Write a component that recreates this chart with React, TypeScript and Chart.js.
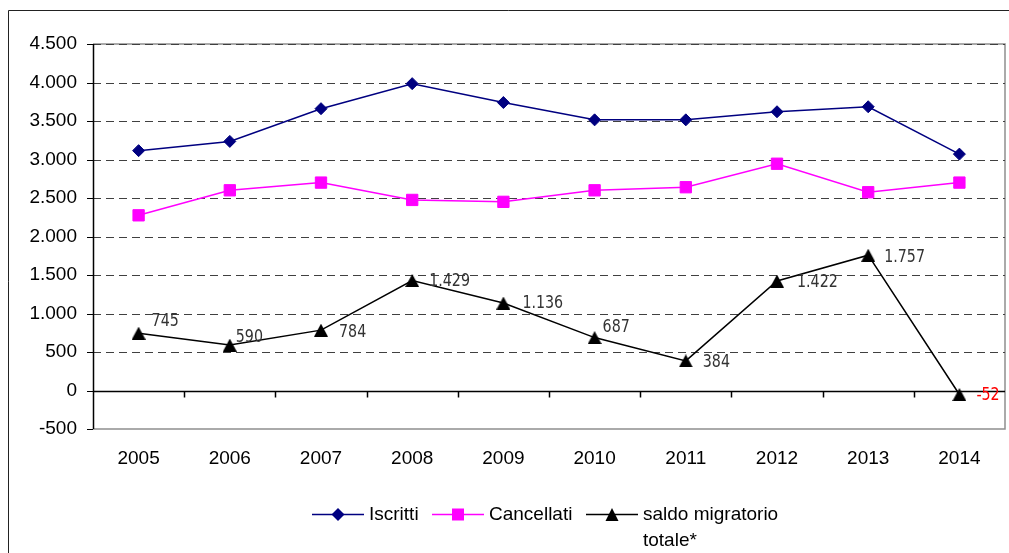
import React, { useEffect, useRef } from 'react';
import { Chart, registerables } from 'chart.js';

Chart.register(...registerables);

// ---- data ----
const years = ['2005', '2006', '2007', '2008', '2009', '2010', '2011', '2012', '2013', '2014'];
const iscritti = [3115, 3235, 3660, 3985, 3740, 3515, 3515, 3620, 3685, 3070];
const cancellati = [2275, 2600, 2700, 2475, 2450, 2600, 2640, 2945, 2575, 2700];
const saldo = [745, 590, 784, 1429, 1136, 687, 384, 1422, 1757, -52];
const seriesNames = ['Iscritti', 'Cancellati', 'saldo migratorio totale*'];
const yMin = -500;
const yMax = 4500;
const yStep = 500;

// label placement relative to the point (style only)
const labelNudge: [number, number][] = [
  [13, -12], [6, -8], [18, 2], [17, 1], [19, 0], [8, -10], [17, 1], [20, 1], [16, 2], [17, 1],
];

const FONT = "'Liberation Sans', Arial, sans-serif";
const NARROW = "'Liberation Sans Narrow', 'DejaVu Sans Condensed', 'Liberation Sans', sans-serif";

function fmt(n: number): string {
  const s = Math.abs(Math.round(n)).toString().replace(/\B(?=(\d{3})+(?!\d))/g, '.');
  return (n < 0 ? '-' : '') + s;
}

function makeTriangle(w: number, h: number, color: string): HTMLCanvasElement {
  const c = document.createElement('canvas');
  c.width = w;
  c.height = h;
  const x = c.getContext('2d')!;
  x.fillStyle = color;
  x.beginPath();
  x.moveTo(w / 2, 0);
  x.lineTo(w, h);
  x.lineTo(0, h);
  x.closePath();
  x.fill();
  return c;
}

function drawMarker(ctx: CanvasRenderingContext2D, kind: string, x: number, y: number, color: string) {
  ctx.save();
  ctx.fillStyle = color;
  ctx.beginPath();
  if (kind === 'diamond') {
    const r = 6.5;
    ctx.moveTo(x, y - r);
    ctx.lineTo(x + r, y);
    ctx.lineTo(x, y + r);
    ctx.lineTo(x - r, y);
    ctx.closePath();
  } else if (kind === 'square') {
    ctx.rect(x - 6, y - 6, 12, 12);
  } else {
    ctx.moveTo(x, y - 6.5);
    ctx.lineTo(x + 6.5, y + 6.5);
    ctx.lineTo(x - 6.5, y + 6.5);
    ctx.closePath();
  }
  ctx.fill();
  ctx.restore();
}

const decor = {
  id: 'decor',
  beforeDraw(chart: any) {
    const { ctx, chartArea: a } = chart;
    ctx.save();
    ctx.fillStyle = '#ffffff';
    ctx.fillRect(0, 0, chart.width, chart.height);
    // outer frame
    ctx.strokeStyle = '#222222';
    ctx.lineWidth = 1;
    ctx.beginPath();
    ctx.moveTo(8.5, chart.height);
    ctx.lineTo(8.5, 10.5);
    ctx.lineTo(chart.width, 10.5);
    ctx.stroke();
    // plot frame (gray)
    ctx.strokeStyle = '#8f8f8f';
    ctx.lineWidth = 1.5;
    ctx.beginPath();
    ctx.moveTo(a.left, a.top);
    ctx.lineTo(a.right, a.top);
    ctx.lineTo(a.right, a.bottom);
    ctx.lineTo(a.left, a.bottom);
    ctx.stroke();
    ctx.restore();
  },
  beforeDatasetsDraw(chart: any) {
    const { ctx, chartArea: a, scales } = chart;
    const ys = scales.y;
    const xs = scales.x;
    ctx.save();
    // dashed gridlines
    for (let v = yMin; v <= yMax; v += yStep) {
      const py = Math.round(ys.getPixelForValue(v)) + 0.5;
      if (v !== 0 && v !== yMin) {
        ctx.strokeStyle = '#404040';
        ctx.lineWidth = 1;
        ctx.setLineDash([8, 5]);
        ctx.beginPath();
        ctx.moveTo(a.left, py);
        ctx.lineTo(a.right, py);
        ctx.stroke();
      }
      // tick marks on the y axis
      ctx.setLineDash([]);
      ctx.strokeStyle = '#000';
      ctx.beginPath();
      ctx.moveTo(a.left - 6, py);
      ctx.lineTo(a.left, py);
      ctx.stroke();
    }
    ctx.setLineDash([]);
    // zero line
    const y0 = Math.round(ys.getPixelForValue(0)) + 0.5;
    ctx.strokeStyle = '#000';
    ctx.lineWidth = 1.5;
    ctx.beginPath();
    ctx.moveTo(a.left, y0);
    ctx.lineTo(a.right, y0);
    ctx.stroke();
    // x tick marks at category boundaries
    ctx.lineWidth = 1.5;
    for (let i = 1; i < years.length; i++) {
      const bx = Math.round((xs.getPixelForValue(i - 1) + xs.getPixelForValue(i)) / 2) + 0.5;
      ctx.beginPath();
      ctx.moveTo(bx, y0);
      ctx.lineTo(bx, y0 + 6);
      ctx.stroke();
    }
    // left axis
    ctx.lineWidth = 1.5;
    ctx.beginPath();
    ctx.moveTo(a.left + 0.5, a.top);
    ctx.lineTo(a.left + 0.5, a.bottom);
    ctx.stroke();
    ctx.restore();
  },
  afterDatasetsDraw(chart: any) {
    const { ctx } = chart;
    const meta = chart.getDatasetMeta(2);
    ctx.save();
    ctx.font = `18px ${NARROW}`;
    ctx.textAlign = 'left';
    ctx.textBaseline = 'middle';
    meta.data.forEach((pt: any, i: number) => {
      const v = saldo[i];
      ctx.fillStyle = v < 0 ? '#ff0000' : '#333333';
      const [dx, dy] = labelNudge[i];
      ctx.save();
      ctx.translate(pt.x + dx, pt.y + dy);
      ctx.scale(0.88, 1);
      ctx.fillText(fmt(v), 0, 0);
      ctx.restore();
    });
    ctx.restore();
  },
  afterDraw(chart: any) {
    const { ctx } = chart;
    const ly = 514.5;
    const items = [
      { x: 312, color: '#000080', kind: 'diamond', text: [seriesNames[0]] },
      { x: 432, color: '#ff00ff', kind: 'square', text: [seriesNames[1]] },
      { x: 586, color: '#000000', kind: 'triangle', text: ['saldo migratorio', 'totale*'] },
    ];
    ctx.save();
    ctx.font = `19px ${FONT}`;
    ctx.textAlign = 'left';
    ctx.textBaseline = 'middle';
    ctx.fillStyle = '#000';
    items.forEach((it) => {
      ctx.strokeStyle = it.color;
      ctx.lineWidth = 1.5;
      ctx.beginPath();
      ctx.moveTo(it.x, ly);
      ctx.lineTo(it.x + 52, ly);
      ctx.stroke();
      drawMarker(ctx, it.kind, it.x + 26, ly, it.color);
      it.text.forEach((t, k) => ctx.fillText(t, it.x + 57, ly + k * 26));
    });
    ctx.restore();
  },
};

export default function App() {
  const ref = useRef<HTMLCanvasElement | null>(null);
  useEffect(() => {
    if (!ref.current) return;
    const tri = makeTriangle(14, 13, '#000000');
    const chart = new Chart(ref.current, {
      type: 'line',
      data: {
        labels: years,
        datasets: [
          {
            label: seriesNames[0],
            data: iscritti,
            borderColor: '#000080',
            backgroundColor: '#000080',
            borderWidth: 1.5,
            pointStyle: 'rectRot',
            pointRadius: 6,
            pointBorderWidth: 1,
            tension: 0,
          },
          {
            label: seriesNames[1],
            data: cancellati,
            borderColor: '#ff00ff',
            backgroundColor: '#ff00ff',
            borderWidth: 1.5,
            pointStyle: 'rect',
            pointRadius: 8,
            pointBorderWidth: 1,
            tension: 0,
          },
          {
            label: seriesNames[2],
            data: saldo,
            borderColor: '#000000',
            backgroundColor: '#000000',
            borderWidth: 1.5,
            pointStyle: tri as any,
            pointRadius: 7,
            tension: 0,
          },
        ],
      },
      options: {
        animation: false,
        responsive: false,
        devicePixelRatio: 1,
        layout: { autoPadding: false, padding: { left: 0, top: 44, right: 4, bottom: 84 } },
        plugins: { legend: { display: false }, tooltip: { enabled: false } },
        scales: {
          x: {
            offset: true,
            grid: { display: false, drawTicks: false },
            border: { display: false },
            ticks: { color: '#000', font: { family: FONT, size: 19 }, padding: 18, maxRotation: 0 },
            afterFit: (s: any) => {
              s.height = 40;
              s.paddingLeft = 0;
              s.paddingRight = 0;
            },
          },
          y: {
            min: yMin,
            max: yMax,
            grid: { display: false, drawTicks: false },
            border: { display: false },
            ticks: {
              stepSize: yStep,
              color: '#000',
              font: { family: FONT, size: 19 },
              padding: 16,
              callback: (v: any) => fmt(Number(v)),
            },
            afterFit: (s: any) => {
              s.width = 93;
              s.paddingTop = 0;
              s.paddingBottom = 0;
            },
          },
        },
      },
      plugins: [decor],
    });
    return () => chart.destroy();
  }, []);
  return (
    <canvas
      ref={ref}
      width={1009}
      height={553}
      style={{ position: 'fixed', left: 0, top: 0, display: 'block', width: 1009, height: 553 }}
    />
  );
}
